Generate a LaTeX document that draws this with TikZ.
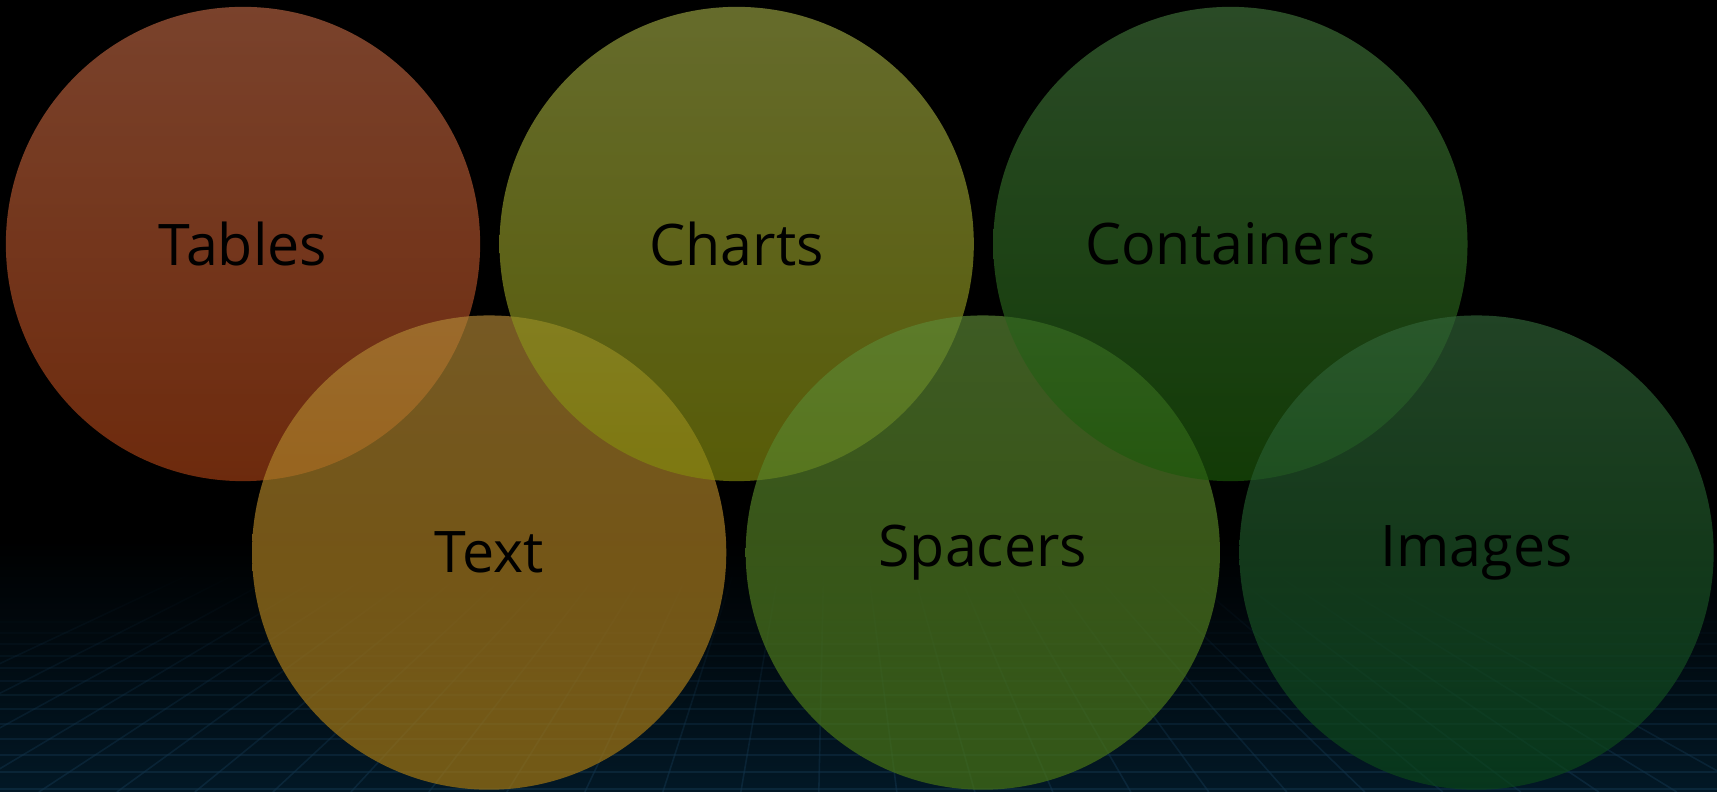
\documentclass[tikz,border=0pt]{standalone}
\usepackage{fontspec}
\setmainfont{Open Sans}
\usetikzlibrary{positioning, fadings}
\definecolor{GridNavy}{RGB}{2,24,38}
\definecolor{GridBlue}{RGB}{18,52,76}
\definecolor{TablesTop}{RGB}{182,99,66}
\definecolor{TablesBot}{RGB}{164,64,20}
\definecolor{ChartsTop}{RGB}{152,161,66}
\definecolor{ChartsBot}{RGB}{131,137,12}
\definecolor{ContTop}{RGB}{64,112,58}
\definecolor{ContBot}{RGB}{28,88,10}
\definecolor{TextTop}{RGB}{176,134,54}
\definecolor{TextBot}{RGB}{170,122,15}
\definecolor{SpacTop}{RGB}{93,137,54}
\definecolor{SpacBot}{RGB}{75,119,18}
\definecolor{ImgTop}{RGB}{50,100,56}
\definecolor{ImgBot}{RGB}{10,70,24}
\tikzfading[name=gridfade, top color=transparent!100, bottom color=transparent!45]

\tikzset{
  bubble/.style={circle, minimum size=4.74cm, inner sep=0pt, fill opacity=0.67,
    text opacity=1, text=black, font=\fontsize{16.3}{20}\selectfont},
}

\begin{document}
\begin{tikzpicture}[x=0.01cm, y=-0.01cm]
  \useasboundingbox (0,0) rectangle (1717,792);
  % backdrop with floor grid
  \fill[black] (0,0) rectangle (1717,792);
  \shade[top color=black, bottom color=GridNavy] (0,540) rectangle (1717,792);
  \draw[GridBlue, line width=0.45pt, path fading=gridfade]
    foreach \m in {-12,...,14} {({830+0.572*(78*\m-167)},570) -- ({663+78*\m},792)};
  \foreach \k in {0,...,12}{
    \pgfmathsetmacro\gy{789-\k*(17.5-0.3*\k)}
    \pgfmathsetmacro\go{0.55-0.042*\k}
    \draw[GridBlue, line width=0.45pt, opacity=\go] (0,\gy) -- (1717,\gy);
  }

  \node (tables) [bubble, top color=TablesTop, bottom color=TablesBot] at (243,244) {Tables};
  \node (text) [bubble, top color=TextTop, bottom color=TextBot, below=-1.67cm of tables, xshift=2.46cm] {Text};
  \node (charts) [bubble, top color=ChartsTop, bottom color=ChartsBot, right=0.18cm of tables] {Charts};
  \node (spacers) [bubble, top color=SpacTop, bottom color=SpacBot, right=0.18cm of text] {Spacers};
  \node (containers) [bubble, top color=ContTop, bottom color=ContBot, right=0.18cm of charts] {Containers};
  \node (images) [bubble, top color=ImgTop, bottom color=ImgBot, right=0.18cm of spacers] {Images};
\end{tikzpicture}
\end{document}
